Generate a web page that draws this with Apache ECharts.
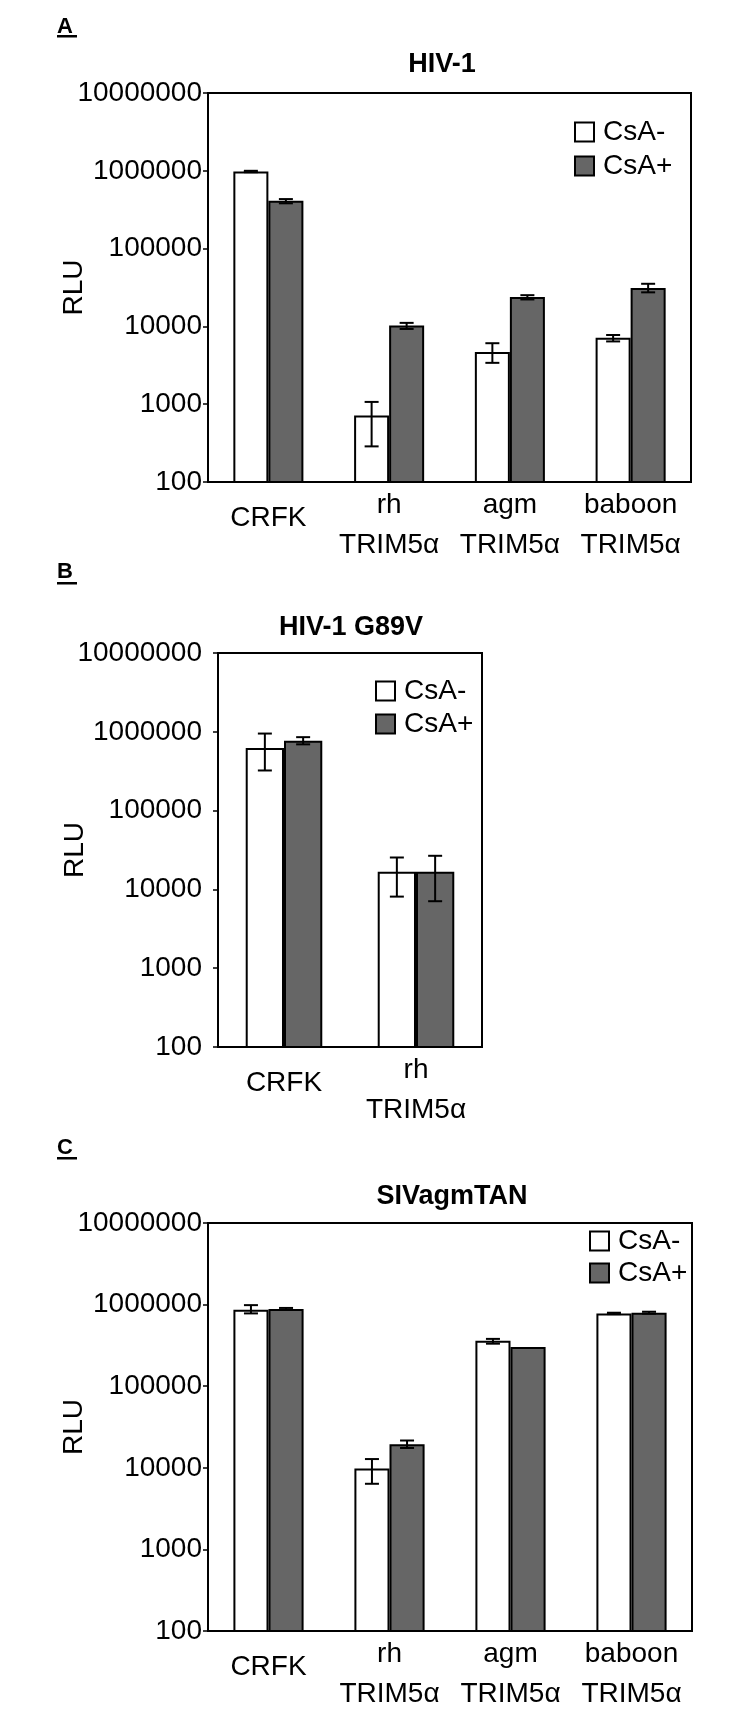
<!DOCTYPE html>
<html>
<head>
<meta charset="utf-8">
<script src="https://cdn.jsdelivr.net/npm/echarts@6/dist/echarts.min.js"></script>
<style>
  html, body { margin: 0; padding: 0; background: #fff; }
  #chart { width: 750px; height: 1714px; }
</style>
</head>
<body>
<div id="chart"></div>
<script>
// categories
const catsA = ['CRFK', 'rh\nTRIM5α', 'agm\nTRIM5α', 'baboon\nTRIM5α'];
const catsB = ['CRFK', 'rh\nTRIM5α'];
const catsC = ['CRFK', 'rh\nTRIM5α', 'agm\nTRIM5α', 'baboon\nTRIM5α'];

// A: HIV-1
const hivMinus = [980000, 716, 4680, 7130];
const hivMinusLo = [960000, 287, 3400, 6410];
const hivMinusHi = [1000000, 1070, 6080, 7750];
const hivPlus = [411000, 10300, 23900, 31100];
const hivPlusLo = [382000, 9270, 22200, 27400];
const hivPlusHi = [433000, 11100, 25200, 35300];

// B: HIV-1 G89V
const g89Minus = [624000, 16700];
const g89MinusLo = [323000, 8100];
const g89MinusHi = [950000, 25400];
const g89Plus = [770000, 16700];
const g89PlusLo = [693000, 7080];
const g89PlusHi = [855000, 26700];

// C: SIVagmTAN
const sivMinus = [867000, 9800, 361000, 780000];
const sivMinusLo = [780000, 6370, 332000, 765000];
const sivMinusHi = [985000, 12800, 380000, 795000];
const sivPlus = [885000, 19500, 302000, 796000];
const sivPlusLo = [860000, 17500, 302000, 775000];
const sivPlusHi = [910000, 21600, 302000, 818000];

const FONT = "'Liberation Sans', Arial, sans-serif";
const GAP = 0.42;

const panels = [
  { title: 'HIV-1', letter: 'A', cats: catsA, minus: hivMinus, mLo: hivMinusLo, mHi: hivMinusHi,
    plus: hivPlus, pLo: hivPlusLo, pHi: hivPlusHi,
    grid: { left: 208, top: 93, width: 483, height: 389 }, labelMargin: 6, nameGap: 120,
    legend: { left: 574, top: 118, itemGap: 6 },
    titlePos: [442, 65], letterY: 27, lineY: 35 },
  { title: 'HIV-1 G89V', letter: 'B', cats: catsB, minus: g89Minus, mLo: g89MinusLo, mHi: g89MinusHi,
    plus: g89Plus, pLo: g89PlusLo, pHi: g89PlusHi,
    grid: { left: 218, top: 653, width: 264, height: 394 }, labelMargin: 16, nameGap: 129,
    legend: { left: 375, top: 677, itemGap: 5 },
    titlePos: [351, 628], letterY: 572, lineY: 582 },
  { title: 'SIVagmTAN', letter: 'C', cats: catsC, minus: sivMinus, mLo: sivMinusLo, mHi: sivMinusHi,
    plus: sivPlus, pLo: sivPlusLo, pHi: sivPlusHi,
    grid: { left: 208, top: 1223, width: 484, height: 414 }, labelMargin: 6, nameGap: 120,
    legend: { left: 589, top: 1227, itemGap: 4 },
    titlePos: [452, 1197], letterY: 1148, lineY: 1157 }
];

// error bar drawn at the centre of each bar of a pair
function errorRender(side) {
  return function (params, api) {
    const cat = api.value(0);
    const lo = api.value(1);
    const hi = api.value(2);
    if (hi <= lo) return null;
    const band = api.coord([1, hi])[0] - api.coord([0, hi])[0];
    const bw = band * (1 - GAP) / 2;
    const x = api.coord([cat, hi])[0] + side * bw / 2;
    const yHi = api.coord([cat, hi])[1];
    const yLo = api.coord([cat, lo])[1];
    const cap = 7;
    const st = { stroke: '#000', lineWidth: 2 };
    return {
      type: 'group',
      children: [
        { type: 'line', shape: { x1: x, y1: yHi, x2: x, y2: yLo }, style: st },
        { type: 'line', shape: { x1: x - cap, y1: yHi, x2: x + cap, y2: yHi }, style: st },
        { type: 'line', shape: { x1: x - cap, y1: yLo, x2: x + cap, y2: yLo }, style: st }
      ]
    };
  };
}

const option = {
  animation: false,
  backgroundColor: '#fff',
  textStyle: { fontFamily: FONT },
  grid: [], xAxis: [], yAxis: [], legend: [], series: [], graphic: []
};

panels.forEach((p, i) => {
  option.grid.push(Object.assign({ show: true, borderColor: '#000', borderWidth: 2 }, p.grid));
  option.xAxis.push({
    type: 'category', gridIndex: i, data: p.cats,
    axisLine: { lineStyle: { color: '#000', width: 2 } },
    axisTick: { length: 6, lineStyle: { color: '#000', width: 1.5 } },
    axisLabel: {
      interval: 0, color: '#000', fontSize: 28, fontFamily: FONT, lineHeight: 40, margin: 3,
      formatter: v => v.indexOf('\n') < 0 ? '{one|' + v + '}' : v,
      rich: { one: { fontSize: 28, fontFamily: FONT, color: '#000', lineHeight: 66 } }
    }
  });
  option.yAxis.push({
    type: 'log', gridIndex: i, logBase: 10, min: 100, max: 10000000, interval: 1,
    name: 'RLU', nameLocation: 'middle', nameGap: p.nameGap, nameMoveOverlap: false,
    nameTextStyle: { fontSize: 28, color: '#000', fontFamily: FONT },
    axisLine: { show: true, lineStyle: { color: '#000', width: 2 } },
    axisTick: { show: true, length: 5, lineStyle: { color: '#000', width: 1.5 } },
    splitLine: { show: false },
    axisLabel: {
      color: '#000', fontSize: 28, fontFamily: FONT, margin: p.labelMargin,
      formatter: v => String(Math.round(v))
    }
  });
  option.legend.push(Object.assign({
    orient: 'vertical', padding: 0, itemWidth: 19, itemHeight: 19,
    selectedMode: false, icon: 'rect', data: ['CsA-', 'CsA+'],
    textStyle: { fontSize: 28, color: '#000', fontFamily: FONT, padding: [0, 0, 0, 4] }
  }, p.legend));

  const barStyle = (fill) => ({ color: fill, borderColor: '#000', borderWidth: 2 });
  option.series.push(
    { name: 'CsA-', type: 'bar', xAxisIndex: i, yAxisIndex: i, data: p.minus,
      barGap: '0%', barCategoryGap: (GAP * 100) + '%', itemStyle: barStyle('#fff') },
    { name: 'CsA+', type: 'bar', xAxisIndex: i, yAxisIndex: i, data: p.plus,
      barGap: '0%', barCategoryGap: (GAP * 100) + '%', itemStyle: barStyle('#666') },
    { name: 'err-' + i, type: 'custom', xAxisIndex: i, yAxisIndex: i, z: 5,
      renderItem: errorRender(-1), encode: { x: 0, y: [1, 2] },
      data: p.cats.map((c, k) => [k, p.mLo[k], p.mHi[k]]) },
    { name: 'err+' + i, type: 'custom', xAxisIndex: i, yAxisIndex: i, z: 5,
      renderItem: errorRender(1), encode: { x: 0, y: [1, 2] },
      data: p.cats.map((c, k) => [k, p.pLo[k], p.pHi[k]]) }
  );

  option.graphic.push(
    { type: 'text', x: p.titlePos[0], y: p.titlePos[1],
      style: { text: p.title, font: 'bold 27px ' + FONT, fill: '#000', align: 'center', verticalAlign: 'middle' } },
    { type: 'text', x: 57, y: p.letterY,
      style: { text: p.letter, font: 'bold 22px ' + FONT, fill: '#000', align: 'left', verticalAlign: 'middle' } },
    { type: 'rect', shape: { x: 57, y: p.lineY, width: 20, height: 2.5 }, style: { fill: '#000' } }
  );
});

const chart = echarts.init(document.getElementById('chart'));
chart.setOption(option);
</script>
</body>
</html>
